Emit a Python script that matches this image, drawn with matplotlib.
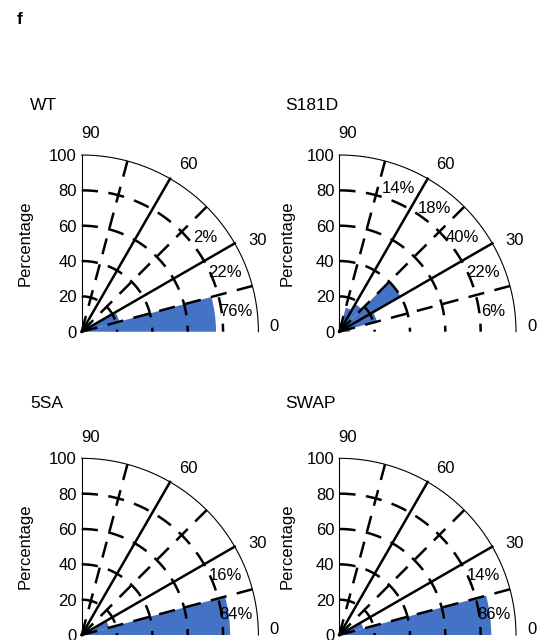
import numpy as np
import matplotlib
matplotlib.use('Agg')
import matplotlib.pyplot as plt
from matplotlib.patches import Wedge

plt.rcParams['font.family'] = ['Liberation Sans', 'DejaVu Sans']

# bins de 15 graus, valores em percentagem
bin_edges = [0, 15, 30, 45, 60, 75, 90]
wt = [76, 22, 2, 0, 0, 0]
s181d = [6, 22, 40, 18, 14, 0]
sa5 = [84, 16, 0, 0, 0, 0]
swap = [86, 14, 0, 0, 0, 0]

panel_names = ['WT', 'S181D', '5SA', 'SWAP']
panel_values = [wt, s181d, sa5, swap]

angle_labels = [0, 30, 60, 90]
r_ticks = [0, 20, 40, 60, 80, 100]

blue = '#4472C4'
W, H = 549, 640
fig = plt.figure(figsize=(W / 100, H / 100), dpi=100)

# posicoes em pixels (origem de cada quadrante)
origins = [(81.7, 331.7), (339.3, 331.7), (81.7, 635.0), (339.3, 635.0)]
title_xy = [(30, 105), (285, 106), (30, 404), (285, 404)]
size = 176.7
dash = (0, (6.5, 4.2))
fs = 12


def quarter_polar(ax, values, ylab_x):
    ax.set_xlim(0, 100)
    ax.set_ylim(0, 100)
    for s in ['top', 'right', 'bottom']:
        ax.spines[s].set_visible(False)
    ax.spines['left'].set_linewidth(0.8)
    ax.set_xticks([])
    ax.set_yticks(r_ticks)
    ax.tick_params(axis='y', length=0, pad=3.5, labelsize=fs)
    ax.set_ylabel('Percentage', fontsize=fs)
    ax.yaxis.set_label_coords(ylab_x, 0.5)

    # barras (cunhas)
    for i, v in enumerate(values):
        if v > 0:
            ax.add_patch(Wedge((0, 0), v, bin_edges[i], bin_edges[i + 1],
                               facecolor=blue, edgecolor='none', zorder=1))

    t = np.radians(np.linspace(90, 0, 300))
    # arcos tracejados
    for r in [20, 40, 60, 80]:
        ax.plot(r * np.cos(t), r * np.sin(t), color='k', lw=1.8,
                linestyle=dash, clip_on=False, zorder=3)
    # arco externo
    ax.plot(100 * np.cos(t), 100 * np.sin(t), color='k', lw=0.8,
            clip_on=False, zorder=3)
    # raios
    for a in [15, 30, 45, 60, 75]:
        ar = np.radians(a)
        ls = '-' if a % 30 == 0 else dash
        ax.plot([0, 100 * np.cos(ar)], [0, 100 * np.sin(ar)], color='k',
                lw=1.8, linestyle=ls, clip_on=False, zorder=3)

    # rotulos de angulo
    for a in angle_labels:
        if a == 0:
            rr, aa = 109, 1.6
        else:
            rr, aa = 112, a - 2.5
        ax.text(rr * np.cos(np.radians(aa)), rr * np.sin(np.radians(aa)),
                str(a), ha='center', va='center', fontsize=fs, clip_on=False)

    # percentagens
    for i, v in enumerate(values):
        if v > 0:
            mid = np.radians((bin_edges[i] + bin_edges[i + 1]) / 2)
            ax.text(88 * np.cos(mid), 88 * np.sin(mid), f'{v}%',
                    ha='center', va='center', fontsize=fs, zorder=4)


for k in range(4):
    ox, oy = origins[k]
    ax = fig.add_axes([ox / W, 1 - oy / H, size / W, size / H])
    ax.patch.set_alpha(0)
    quarter_polar(ax, panel_values[k], -0.28 if k % 2 == 0 else -0.255)
    tx, ty = title_xy[k]
    fig.text(tx / W, 1 - ty / H, panel_names[k], ha='left', va='center',
             fontsize=12.5)

fig.text(17 / W, 1 - 19.5 / H, 'f', ha='left', va='center', fontsize=12.5,
         fontweight='bold')

fig.savefig('out.png', dpi=100)
